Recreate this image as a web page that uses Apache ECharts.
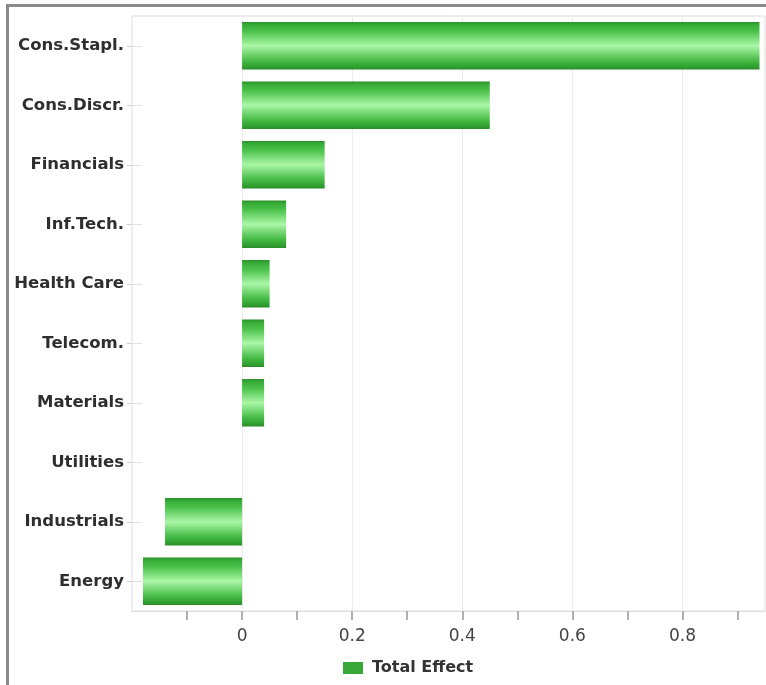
<!DOCTYPE html>
<html>
<head>
<meta charset="utf-8">
<script src="https://cdn.jsdelivr.net/npm/echarts@6/dist/echarts.min.js"></script>
<style>
html,body{margin:0;padding:0;background:#fff;}
#c{width:766px;height:685px;}
</style>
</head>
<body>
<div id="c"></div>
<script>
const categories = ['Cons.Stapl.', 'Cons.Discr.', 'Financials', 'Inf.Tech.', 'Health Care', 'Telecom.', 'Materials', 'Utilities', 'Industrials', 'Energy'];
const totalEffect = [0.94, 0.45, 0.15, 0.08, 0.05, 0.04, 0.04, 0, -0.14, -0.18];
const tickValues = [-0.1, 0, 0.1, 0.2, 0.3, 0.4, 0.5, 0.6, 0.7, 0.8, 0.9];
const labelValues = [0, 0.2, 0.4, 0.6, 0.8];
const seriesName = 'Total Effect';

const chart = echarts.init(document.getElementById('c'));
const barGradient = new echarts.graphic.LinearGradient(0, 0, 0, 1, [
  {offset: 0, color: '#2a902a'},
  {offset: 0.06, color: '#36ab36'},
  {offset: 0.2, color: '#4cc24c'},
  {offset: 0.5, color: '#aaf7a6'},
  {offset: 0.82, color: '#44b944'},
  {offset: 0.94, color: '#30a030'},
  {offset: 1, color: '#2a8a2a'}
]);
chart.setOption({
  animation: false,
  backgroundColor: '#fff',
  graphic: [
    {type: 'line', shape: {x1: 7.5, y1: 5, x2: 7.5, y2: 685}, style: {stroke: '#8a8a8a', lineWidth: 3}},
    {type: 'line', shape: {x1: 6, y1: 5.5, x2: 766, y2: 5.5}, style: {stroke: '#8a8a8a', lineWidth: 3}}
  ],
  grid: {left: 132, right: 1, top: 16, bottom: 74, show: true, borderColor: '#dedede', borderWidth: 1, containLabel: false},
  legend: {
    data: [{name: seriesName, icon: 'rect', itemStyle: {color: '#38a838', borderWidth: 0}}],
    left: 338, top: 655,
    itemWidth: 20, itemHeight: 12,
    textStyle: {fontFamily: 'DejaVu Sans', fontWeight: 'bold', fontSize: 16, color: '#333', padding: [0, 0, 0, 4]}
  },
  xAxis: [
    {
      type: 'value', min: -0.2, max: 0.95, interval: 0.2, position: 'bottom',
      axisLine: {show: true, onZero: false, lineStyle: {color: '#dcdcdc'}},
      axisTick: {show: false},
      axisLabel: {show: false},
      splitLine: {show: true, lineStyle: {color: '#ececec'}}
    },
    {
      type: 'value', min: -0.2, max: 0.95, position: 'bottom',
      axisLine: {show: false, onZero: false},
      axisTick: {show: true, customValues: tickValues, length: 9, lineStyle: {color: '#b0b0b0', width: 2}},
      axisLabel: {show: true, customValues: labelValues, margin: 17, fontFamily: 'DejaVu Sans', fontSize: 17, color: '#444',
        formatter: v => String(Math.round(v * 10) / 10)},
      splitLine: {show: false}
    }
  ],
  yAxis: [
    {
      type: 'category', data: categories, inverse: true, position: 'left',
      axisLine: {show: false, onZero: false},
      axisTick: {show: true, alignWithLabel: true, length: 5, lineStyle: {color: '#cfcfcf'}},
      axisLabel: {margin: 8, fontFamily: 'DejaVu Sans', fontWeight: 'bold', fontSize: 16.5, color: '#2e2e2e'},
      splitLine: {show: false}
    },
    {
      type: 'category', data: categories, inverse: true, position: 'left',
      axisLine: {show: false, onZero: false},
      axisTick: {show: true, inside: true, alignWithLabel: true, length: 10, lineStyle: {color: '#e0e0e0'}},
      axisLabel: {show: false},
      splitLine: {show: false}
    }
  ],
  series: [{
    name: seriesName,
    type: 'bar',
    xAxisIndex: 0,
    yAxisIndex: 0,
    data: totalEffect,
    barCategoryGap: '20%',
    itemStyle: {color: barGradient, borderWidth: 0}
  }]
});
</script>
</body>
</html>
